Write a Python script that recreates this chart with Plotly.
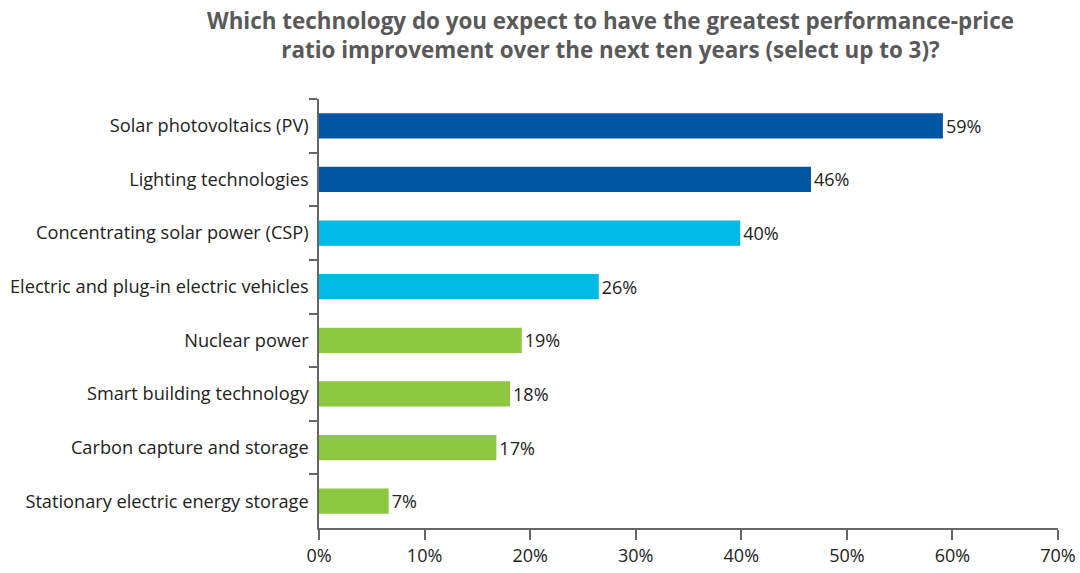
import plotly.graph_objects as go

categories = [
    "Solar photovoltaics (PV)",
    "Lighting technologies",
    "Concentrating solar power (CSP)",
    "Electric and plug-in electric vehicles",
    "Nuclear power",
    "Smart building technology",
    "Carbon capture and storage",
    "Stationary electric energy storage",
]
values = [59.1, 46.6, 39.9, 26.5, 19.2, 18.1, 16.8, 6.6]
labels = ["59%", "46%", "40%", "26%", "19%", "18%", "17%", "7%"]
colors = ["#0055A2", "#0055A2", "#00B9E6", "#00B9E6",
          "#8DC63F", "#8DC63F", "#8DC63F", "#8DC63F"]
x_ticks = [0, 10, 20, 30, 40, 50, 60, 70]
x_tick_labels = ["0%", "10%", "20%", "30%", "40%", "50%", "60%", "70%"]
title_text = ("Which technology do you expect to have the greatest performance-price<br>"
              "ratio improvement over the next ten years (select up to 3)?")

font_family = "Open Sans, sans-serif"

L, R, T, B = 319, 22, 99, 45
W, H = 1080, 573
pw, ph = W - L - R, H - T - B

fig = go.Figure(go.Bar(
    y=categories,
    x=values,
    orientation="h",
    marker=dict(color=colors, line=dict(width=0)),
    width=0.47,
    text=labels,
    textposition="outside",
    textfont=dict(size=18, color="#222222", family=font_family),
    cliponaxis=False,
    hoverinfo="skip",
))

fig.add_annotation(
    text=title_text, xref="paper", yref="paper",
    x=(610 - L) / pw, y=1 + (T - 3) / ph, xanchor="center", yanchor="top",
    showarrow=False, align="center",
    font=dict(size=22.4, color="#595959", family=font_family, weight="bold"),
)

fig.update_layout(
    width=W, height=H,
    paper_bgcolor="white", plot_bgcolor="white",
    margin=dict(l=L, r=R, t=T, b=B),
    showlegend=False,
    font=dict(family=font_family, color="#222222", size=18),
)

fig.update_xaxes(
    range=[0, 70], tickvals=x_ticks, ticktext=x_tick_labels,
    showgrid=False, zeroline=False, automargin=False,
    showline=True, linecolor="#666666", linewidth=2,
    ticks="outside", ticklen=10, tickwidth=2, tickcolor="#666666",
    tickfont=dict(size=18, color="#222222"),
)
fig.update_yaxes(
    categoryorder="array", categoryarray=categories, autorange="reversed",
    showgrid=False, zeroline=False, automargin=False,
    showline=True, linecolor="#666666", linewidth=2,
    ticks="outside", tickson="boundaries", ticklen=8, tickwidth=2, tickcolor="#666666",
    tickfont=dict(size=18.2, color="#222222"),
    ticksuffix=" ",
)

fig.write_html("out.html", config={"displayModeBar": False},
               post_script="document.body.style.margin='0';")
